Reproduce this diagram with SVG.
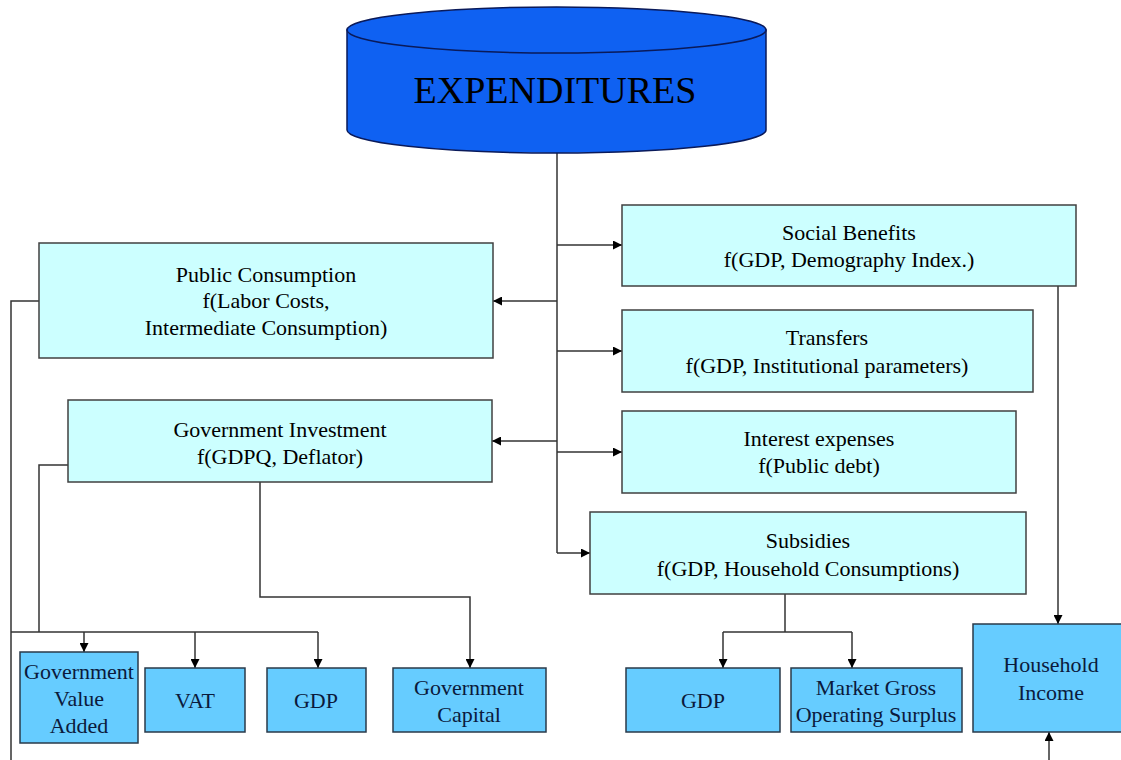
<svg xmlns="http://www.w3.org/2000/svg" width="1121" height="760" viewBox="0 0 1121 760" font-family="Liberation Serif, Times New Roman, serif">
  <defs>
    <marker id="arrow" viewBox="0 0 10 10" refX="10" refY="5" markerWidth="10" markerHeight="9" markerUnits="userSpaceOnUse" orient="auto">
      <path d="M0 0 L10 5 L0 10 Z" fill="#000"/>
    </marker>
  </defs>
  <style>
    .t { font-size: 22px; text-anchor: middle; fill: #000; }
    .tb { font-size: 22px; text-anchor: middle; fill: #0b1a3c; }
    .box { fill: #ccffff; stroke: #404040; stroke-width: 1.5; }
    .leaf { fill: #66ccff; stroke: #2a3a4a; stroke-width: 1.5; }
    .conn path { fill: none; stroke: #333; stroke-width: 1.5; }
    .arr { marker-end: url(#arrow); }
  </style>
  <rect width="1121" height="760" fill="#fff"/>

  <!-- connectors -->
  <g class="conn">
    <path d="M557 153 V553"/>
    <path class="arr" d="M557 245 H622"/>
    <path class="arr" d="M557 351 H622"/>
    <path class="arr" d="M557 452 H622"/>
    <path class="arr" d="M557 553 H590"/>
    <path class="arr" d="M557 301 H493"/>
    <path class="arr" d="M557 441 H492"/>
    <path d="M39 301 H11 V760"/>
    <path d="M68 465 H39 V632"/>
    <path d="M11 632 H318"/>
    <path class="arr" d="M84 632 V652"/>
    <path class="arr" d="M195 632 V668"/>
    <path class="arr" d="M318 632 V668"/>
    <path class="arr" d="M260 482 V597 H470 V668"/>
    <path d="M785 594 V632"/>
    <path d="M723 632 H852"/>
    <path class="arr" d="M723 632 V668"/>
    <path class="arr" d="M852 632 V668"/>
    <path class="arr" d="M1058 286 V624"/>
    <path class="arr" d="M1049 760 V732"/>
  </g>

  <!-- root cylinder -->
  <g id="expenditures">
    <path d="M347 30 V130 A209.5 23 0 0 0 766 130 V30 Z" fill="#0f61f2" stroke="#0a1a5a" stroke-width="1.5"/>
    <ellipse cx="556.5" cy="30" rx="209.5" ry="23" fill="#0f61f2" stroke="#0a1a5a" stroke-width="1.5"/>
    <text x="555" y="103" font-size="38" text-anchor="middle" fill="#000">EXPENDITURES</text>
  </g>

  <g id="social-benefits">
    <rect class="box" x="622" y="205" width="454" height="81"/>
    <text class="t" x="849" y="240">Social Benefits</text>
    <text class="t" x="849" y="267">f(GDP, Demography Index.)</text>
  </g>
  <g id="transfers">
    <rect class="box" x="622" y="310" width="411" height="82"/>
    <text class="t" x="827" y="345">Transfers</text>
    <text class="t" x="827" y="373">f(GDP, Institutional parameters)</text>
  </g>
  <g id="interest-expenses">
    <rect class="box" x="622" y="411" width="394" height="82"/>
    <text class="t" x="819" y="446">Interest expenses</text>
    <text class="t" x="819" y="473">f(Public debt)</text>
  </g>
  <g id="subsidies">
    <rect class="box" x="590" y="512" width="436" height="82"/>
    <text class="t" x="808" y="548">Subsidies</text>
    <text class="t" x="808" y="576">f(GDP, Household Consumptions)</text>
  </g>
  <g id="public-consumption">
    <rect class="box" x="39" y="243" width="454" height="115"/>
    <text class="t" x="266" y="282">Public Consumption</text>
    <text class="t" x="266" y="308">f(Labor Costs,</text>
    <text class="t" x="266" y="335">Intermediate Consumption)</text>
  </g>
  <g id="government-investment">
    <rect class="box" x="68" y="400" width="424" height="82"/>
    <text class="t" x="280" y="437">Government Investment</text>
    <text class="t" x="280" y="464">f(GDPQ, Deflator)</text>
  </g>

  <g id="government-value-added">
    <rect class="leaf" x="20" y="652" width="118" height="91"/>
    <text class="tb" x="79" y="679">Government</text>
    <text class="tb" x="79" y="706">Value</text>
    <text class="tb" x="79" y="733">Added</text>
  </g>
  <g id="vat">
    <rect class="leaf" x="145" y="668" width="100" height="64"/>
    <text class="tb" x="195" y="708">VAT</text>
  </g>
  <g id="gdp-left">
    <rect class="leaf" x="267" y="668" width="99" height="64"/>
    <text class="tb" x="316" y="708">GDP</text>
  </g>
  <g id="government-capital">
    <rect class="leaf" x="393" y="668" width="153" height="64"/>
    <text class="tb" x="469" y="695">Government</text>
    <text class="tb" x="469" y="722">Capital</text>
  </g>
  <g id="gdp-right">
    <rect class="leaf" x="626" y="668" width="154" height="64"/>
    <text class="tb" x="703" y="708">GDP</text>
  </g>
  <g id="market-gross-operating-surplus">
    <rect class="leaf" x="791" y="668" width="171" height="64"/>
    <text class="tb" x="876" y="695">Market Gross</text>
    <text class="tb" x="876" y="722">Operating Surplus</text>
  </g>
  <g id="household-income">
    <rect class="leaf" x="973" y="624" width="160" height="108"/>
    <text class="tb" x="1051" y="672">Household</text>
    <text class="tb" x="1051" y="700">Income</text>
  </g>
</svg>
